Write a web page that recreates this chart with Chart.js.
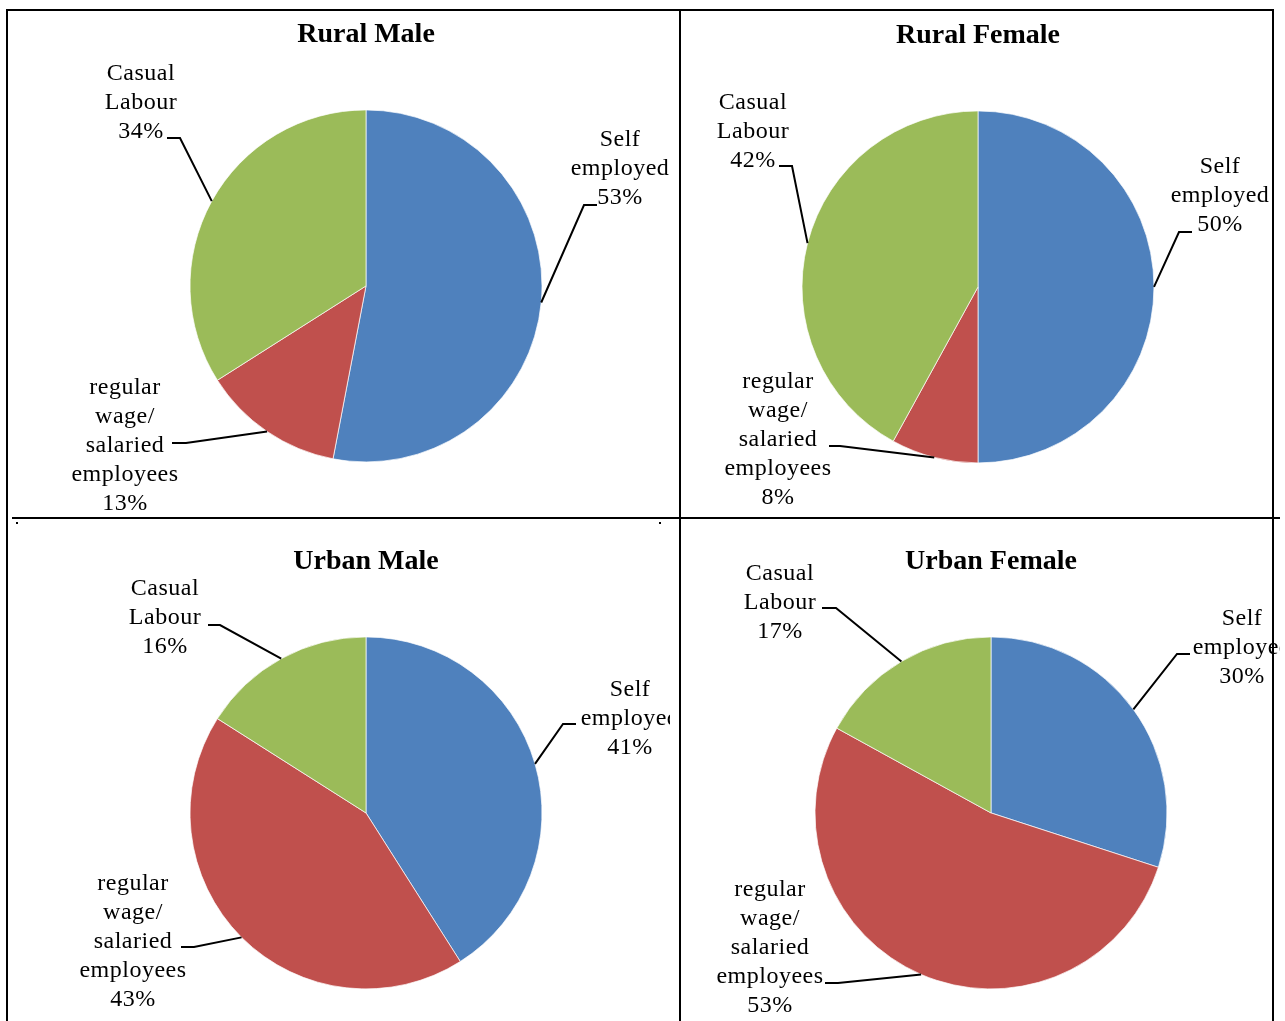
<!DOCTYPE html>
<html>
<head>
<meta charset="utf-8">
<title>Employment status: rural and urban, male and female</title>
<script src="https://cdn.jsdelivr.net/npm/chart.js@4.4.1/dist/chart.umd.min.js"></script>
<style>
  body { margin: 0; background: #fff; }
  #sheet { position: relative; width: 1285px; height: 1021px; overflow: hidden; }
  #sheet canvas { position: absolute; }
  .rule { position: absolute; background: #000; z-index: 2; }
</style>
</head>
<body>
<div id="sheet">
  <canvas id="ruralMale"></canvas>
  <canvas id="ruralFemale"></canvas>
  <canvas id="urbanMale"></canvas>
  <canvas id="urbanFemale"></canvas>

  <!-- table frame -->
  <div class="rule" style="left:6px;top:9px;width:1268px;height:2px"></div>
  <div class="rule" style="left:6px;top:9px;width:2px;height:1012px"></div>
  <div class="rule" style="left:679px;top:9px;width:2px;height:1012px"></div>
  <div class="rule" style="left:1272px;top:9px;width:2px;height:1012px"></div>
  <div class="rule" style="left:12px;top:517px;width:1268px;height:2px"></div>
  <div class="rule" style="left:16px;top:522px;width:2px;height:2px"></div>
  <div class="rule" style="left:659px;top:522px;width:2px;height:2px"></div>
</div>

<script>
const categories = ['Self employed', 'regular wage/ salaried employees', 'Casual Labour'];
const labelLines = [['Self', 'employed'], ['regular', 'wage/', 'salaried', 'employees'], ['Casual', 'Labour']];
const sliceColors = ['#4F81BD', '#C0504D', '#9BBB59'];

// share of workers (%) by employment type
const ruralMale = [53, 13, 34];
const ruralFemale = [50, 8, 42];
const urbanMale = [41, 43, 16];
const urbanFemale = [30, 53, 17];

const SERIF = '"Liberation Serif", "Times New Roman", serif';
const TITLE_SIZE = 28;
const LABEL_SIZE = 24;
const LINE_GAP = 29;
const TEXT_NUDGE = 2;

// page placement of each chart: canvas box [left, top, w, h], pie [cx, cy, r],
// and for every slice label: text centre x, first line y, leader start and elbow
const panels = [
  {
    id: 'ruralMale', title: 'Rural Male', values: ruralMale,
    box: [9, 12, 670, 505], pie: [366, 286, 176], titleY: 35,
    labels: [
      { x: 620, y: 138, from: [597, 205], elbow: [584, 205] },
      { x: 125, y: 386, from: [172, 443], elbow: [186, 443] },
      { x: 141, y: 72, from: [167, 138], elbow: [180, 138] }
    ]
  },
  {
    id: 'ruralFemale', title: 'Rural Female', values: ruralFemale,
    box: [682, 12, 603, 505], pie: [978, 287, 176], titleY: 36,
    labels: [
      { x: 1220, y: 165, from: [1192, 232], elbow: [1179, 232] },
      { x: 778, y: 380, from: [829, 446], elbow: [840, 446] },
      { x: 753, y: 101, from: [779, 166], elbow: [792, 166] }
    ]
  },
  {
    id: 'urbanMale', title: 'Urban Male', values: urbanMale,
    box: [9, 520, 661, 501], pie: [366, 813, 176], titleY: 562,
    labels: [
      { x: 630, y: 688, from: [576, 724], elbow: [563, 724] },
      { x: 133, y: 882, from: [181, 947], elbow: [194, 947] },
      { x: 165, y: 587, from: [208, 625], elbow: [220, 625] }
    ]
  },
  {
    id: 'urbanFemale', title: 'Urban Female', values: urbanFemale,
    box: [682, 520, 598, 501], pie: [991, 813, 176], titleY: 562,
    labels: [
      { x: 1242, y: 617, from: [1190, 654], elbow: [1177, 654] },
      { x: 770, y: 888, from: [825, 983], elbow: [838, 983] },
      { x: 780, y: 572, from: [822, 608], elbow: [836, 608] }
    ]
  }
];

// draws the multi-line slice labels and their elbow leader lines
const leaderLabels = {
  id: 'leaderLabels',
  afterDatasetsDraw(chart, args, opts) {
    const { ctx } = chart;
    const meta = chart.getDatasetMeta(0);
    const values = chart.data.datasets[0].data;
    ctx.save();
    ctx.strokeStyle = '#000';
    ctx.lineWidth = 2;
    ctx.fillStyle = '#000';
    ctx.font = LABEL_SIZE + 'px ' + SERIF;
    ctx.letterSpacing = '0.5px';
    ctx.textAlign = 'center';
    ctx.textBaseline = 'middle';

    meta.data.forEach((arc, i) => {
      const place = opts.places[i];
      const mid = (arc.startAngle + arc.endAngle) / 2;
      const px = arc.x + arc.outerRadius * Math.cos(mid);
      const py = arc.y + arc.outerRadius * Math.sin(mid);

      ctx.beginPath();
      ctx.moveTo(place.from[0], place.from[1]);
      ctx.lineTo(place.elbow[0], place.elbow[1]);
      ctx.lineTo(px, py);
      ctx.stroke();

      const lines = labelLines[i].concat(values[i] + '%');
      lines.forEach((txt, k) => {
        ctx.fillText(txt, place.x, place.y + TEXT_NUDGE + k * LINE_GAP);
      });
    });
    ctx.restore();
  }
};

panels.forEach(p => {
  const [L, T, W, H] = p.box;
  const canvas = document.getElementById(p.id);
  canvas.width = W;
  canvas.height = H;
  canvas.style.left = L + 'px';
  canvas.style.top = T + 'px';

  const cx = p.pie[0] - L;
  const cy = p.pie[1] - T;
  const r = p.pie[2];

  // title box sits at the top, chart area is exactly the pie's square
  const lh = TITLE_SIZE * 1.2;
  const padTop = p.titleY - T - lh / 2;
  const areaTop = cy - r - 0.5;

  const shift = (pt) => [pt[0] - L, pt[1] - T];
  const places = p.labels.map(l => ({
    x: l.x - L,
    y: l.y - T,
    from: shift(l.from),
    elbow: shift(l.elbow)
  }));

  new Chart(canvas, {
    type: 'pie',
    data: {
      labels: categories,
      datasets: [{
        data: p.values,
        backgroundColor: sliceColors,
        borderColor: '#ffffff',
        borderWidth: 0.7
      }]
    },
    options: {
      responsive: false,
      animation: false,
      events: [],
      layout: {
        padding: {
          left: cx - r - 0.35,
          right: W - cx - r - 0.35,
          top: padTop,
          bottom: H - (cy + r + 0.35)
        }
      },
      plugins: {
        legend: { display: false },
        tooltip: { enabled: false },
        title: {
          display: true,
          text: p.title,
          color: '#000',
          font: { family: SERIF, size: TITLE_SIZE, weight: 'bold', lineHeight: 1.2 },
          padding: { top: 0, bottom: areaTop - padTop - lh }
        },
        leaderLabels: { places }
      }
    },
    plugins: [leaderLabels]
  });
});
</script>
</body>
</html>
